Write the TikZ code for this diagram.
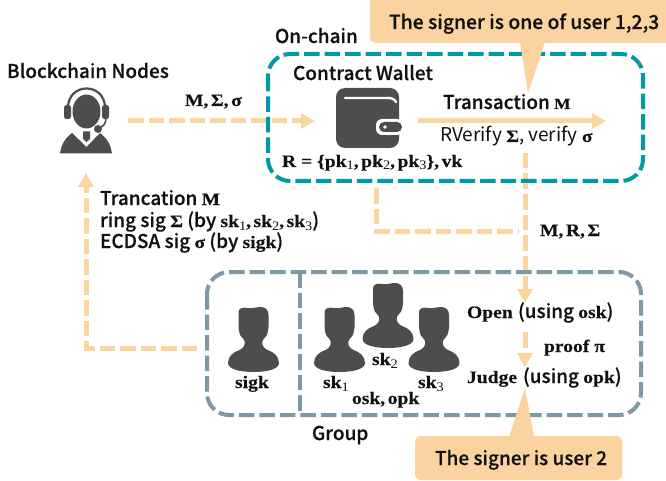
\documentclass[tikz,border=0pt]{standalone}
\usepackage{fontspec}
\usetikzlibrary{arrows.meta}
\setmainfont[FakeBold=0.35]{Noto Sans CJK JP Medium}
\newfontfamily\regfont{Noto Sans CJK JP}
\newfontfamily\mth[FakeStretch=1.12,FakeBold=0.2]{Liberation Serif Bold}
\newfontfamily\mthr[FakeStretch=1.1]{Liberation Serif}
\definecolor{ora}{HTML}{FBD5A0}
\definecolor{call}{HTML}{FBD3A0}
\definecolor{teal1}{HTML}{0099A6}
\definecolor{slate}{HTML}{7F98A5}
\definecolor{dark}{HTML}{4D4D4D}
\definecolor{ink}{HTML}{111111}
\newcommand\fs[1]{\fontsize{#1}{#1}\selectfont}
\newcommand\M[1]{{\mth #1}}
\newcommand\MM[1]{{\mth\fs{17.5}#1}}
\newcommand\sbs[1]{\raisebox{-3pt}{\mthr\fs{13}#1}}
\newcommand\cm{,\kern2.5pt}
\tikzset{
  lab/.style={anchor=base west,inner sep=0pt,outer sep=0pt,text=ink,font=\fs{19}},
  mlab/.style={anchor=base west,inner sep=0pt,outer sep=0pt,text=ink,font=\mth\fs{17.5}},
  flow/.style={draw=ora,line width=5pt,dash pattern=on 15.5pt off 5pt},
  flowtip/.style={-{Triangle[length=14pt,width=15pt,fill=ora]}},
  boxd/.style={line width=4pt,dash pattern=on 15.5pt off 5pt,rounded corners=22pt},
  bubble/.style={fill=call,rounded corners=6pt},
  person/.pic={
    \fill[dark] (-15,5)
      .. controls (-15,1) and (-10,0) .. (-6,1)
      .. controls (-2,2) and (3,0) .. (7,0)
      .. controls (12,0) and (15,3) .. (15,8)
      -- (15,20) .. controls (15,23) and (14,25) .. (14,26)
      .. controls (14,29) and (10,31) .. (9,34)
      .. controls (8,38) and (10,41) .. (14,43)
      .. controls (20,45) and (25.5,49) .. (25.5,56)
      .. controls (25.5,62) and (14,65) .. (0,65)
      .. controls (-14,65) and (-25.5,62) .. (-25.5,56)
      .. controls (-25.5,49) and (-20,45) .. (-14,43)
      .. controls (-10,41) and (-8,38) .. (-9,34)
      .. controls (-10,31) and (-14,29) .. (-14,26)
      .. controls (-14,25) and (-15,23) .. (-15,20) -- cycle;
  }
}
\begin{document}
\begin{tikzpicture}[x=1pt,y=-1pt]
\useasboundingbox (0,0) rectangle (666,481);
\fill[white] (0,0) rectangle (666,481);
% anchor points
\coordinate (aStart) at (128,121);
\coordinate (aEnd) at (315,121);
\coordinate (tStart) at (418,121);
\coordinate (tEnd) at (606,121);
\coordinate (lStart) at (197,348);
\coordinate (lCorner) at (86,348);
\coordinate (lEnd) at (86,173);
\coordinate (mStart) at (376,188);
\coordinate (mCorner) at (376,231);
\coordinate (mEnd) at (518,231);
\coordinate (vStart) at (525,153);
\coordinate (vEnd) at (525,303);
\coordinate (oStart) at (525,332);
\coordinate (oEnd) at (525,367);
\coordinate (divTop) at (300,272);
\coordinate (divBot) at (300,415);
% connectors
\draw[flow,flowtip] (aStart) -- (aEnd);
\draw[draw=ora,line width=5pt,flowtip] (tStart) -- (tEnd);
\draw[flow,flowtip] (lStart) -- (lCorner) -- (lEnd);
\draw[flow] (mStart) -- (mCorner) -- (mEnd);
\draw[flow,flowtip] (vStart) -- (vEnd);
\draw[flow,flowtip] (oStart) -- (oEnd);
% boxes
\draw[boxd,draw=teal1] (268,54) rectangle (643,181);
\draw[boxd,draw=slate] (207,272) rectangle (641,415);
\draw[draw=slate,line width=4pt,dash pattern=on 15.5pt off 5pt] (divTop) -- (divBot);
% callouts
\fill[bubble] (370,-8) rectangle (680,43);
\fill[call] (520,42) -- (528,93) -- (545,42) -- cycle;
\fill[bubble] (415,436) rectangle (622,480);
\fill[call] (509,437) -- (525,388) -- (534,437) -- cycle;
% headset icon
\draw[dark,line width=2.2pt] (68,108) .. controls (68,82) and (105,82) .. (105,108);
\fill[dark] (86.5,111.5) ellipse (14 and 17);
\fill[dark,rounded corners=2.5pt] (64,105) rectangle (71,119);
\fill[dark,rounded corners=2.5pt] (102,105) rectangle (109,119);
\draw[dark,line width=1.6pt] (106,118) .. controls (106,124) and (103,127) .. (98,128);
\fill[dark] (98,129) circle (4);
\fill[dark] (60,153.5) .. controls (61,146) and (64,139) .. (72,133) -- (86.5,147) -- (100,133) .. controls (108,139) and (111,146) .. (112,153.5) -- cycle;
\fill[dark] (83,131.5) -- (90,131.5) -- (90,139) -- (86.5,142) -- (83,139) -- cycle;
% wallet icon
\fill[dark,rounded corners=9pt] (336,88) rectangle (399,148);
\draw[white,line width=2.4pt,line cap=round] (345,98) -- (388,98) .. controls (392,98) and (394,99) .. (396,102);
\fill[white,rounded corners=6pt] (376,119) -- (403,119) -- (403,135) -- (376,135) -- cycle;
\fill[dark,rounded corners=5pt] (379,122) -- (402,122) -- (402,132) -- (379,132) -- cycle;
\fill[white] (385,127) circle (1.8);
% people
\pic at (253.5,307) {person};
\pic at (339.5,307) {person};
\pic at (388,283) {person};
\pic at (434,307) {person};
% labels
\node[lab] (tNodes) at (7,78) {Blockchain Nodes};
\node[lab] (tChain) at (275,43) {On-chain};
\node[lab] (tWallet) at (293,80) {Contract Wallet};
\node[mlab] (tMsig) at (185,106) {M\cm Σ\cm σ};
\node[lab] (tTrans) at (443,109) {Transaction \M{\fs{15.5}M}};
\node[lab,font=\regfont\fs{19}] (tVerify) at (440,142) {RVerify \M{\fs{17.5}Σ}, verify \M{\fs{17.5}σ}};
\node[mlab] (tR) at (282,167) {R = \{pk\sbs{1}\cm pk\sbs{2}\cm pk\sbs{3}\}\cm vk};
\node[lab,font=\fs{19.3}] (tCall1) at (389,29) {The signer is one of user 1,2,3};
\node[mlab] (tMRS) at (540,236) {M\cm R\cm Σ};
\node[lab] (tL1) at (100,205) {Trancation \MM{M}};
\node[lab] (tL2) at (100,227) {ring sig \MM{Σ} (by \MM{sk\sbs{1}\cm sk\sbs{2}\cm sk\sbs{3}})};
\node[lab] (tL3) at (100,248) {ECDSA sig \MM{σ} (by \MM{sigk})};
\node[mlab] (tSigk) at (235,388) {sigk};
\node[mlab] (tSk1) at (323,388) {sk\sbs{1}};
\node[mlab] (tSk2) at (372,365) {sk\sbs{2}};
\node[mlab] (tSk3) at (418,388) {sk\sbs{3}};
\node[mlab] (tOsk) at (352,404) {osk\cm opk};
\node[lab] (tGroup) at (312,440) {Group};
\node[mlab] (tOpen) at (467,318) {Open};
\node[lab] (tUse1) at (518,318) {(using \MM{osk})};
\node[mlab] (tProof) at (544,352) {proof π};
\node[mlab] (tJudge) at (467,383) {Judge};
\node[lab] (tUse2) at (523,383) {(using \MM{opk})};
\node[lab,font=\fs{19}] (tCall2) at (435,465) {The signer is user 2};
\end{tikzpicture}
\end{document}
